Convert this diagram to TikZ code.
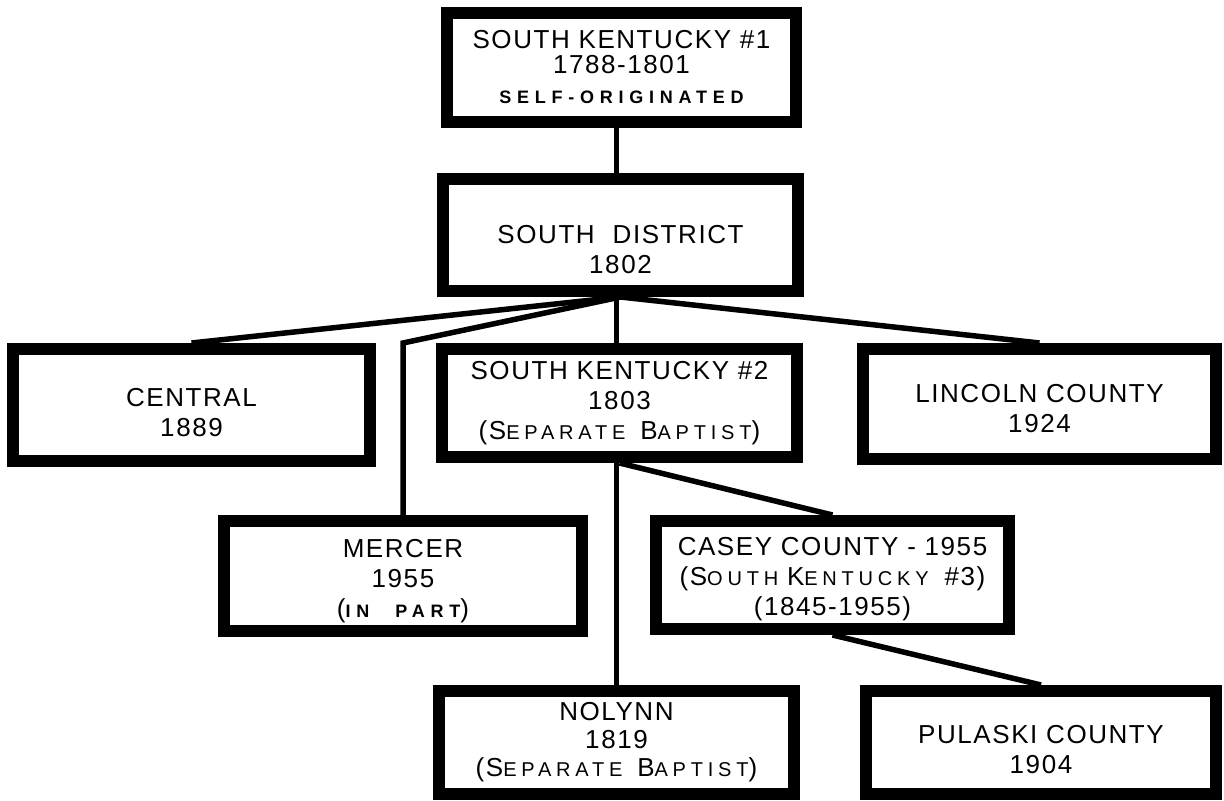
\documentclass[tikz,border=0pt]{standalone}
\usepackage{fontspec}
\setmainfont{Liberation Sans}[LetterSpace=6]
\newcommand{\smc}[1]{{\fontsize{20bp}{30bp}\selectfont\addfontfeatures{LetterSpace=24}#1}}
\newcommand{\smb}[1]{{\fontsize{18bp}{30bp}\selectfont\bfseries\addfontfeatures{LetterSpace=32}#1}}
\newcommand{\topgap}[1]{\mbox{}\\[#1]}
\begin{document}
\begin{tikzpicture}[x=1bp,y=-1bp,
  box/.style={draw, line width=12bp, rectangle, inner sep=0pt, align=center,
    font=\fontsize{26bp}{30bp}\selectfont},
  conn/.style={line width=5.5bp}]
\useasboundingbox (0,0) rectangle (1224,801);
\fill[white] (0,0) rectangle (1224,801);

\node[box, minimum width=349bp, minimum height=109bp] (sk1) at (621.5,67.5)
  {SOUTH KENTUCKY \#1\\[-5bp] 1788-1801\\[0bp] \smb{SELF-ORIGINATED}};
\node[box, minimum width=355bp, minimum height=112bp] (sd) at (620.5,235)
  {\topgap{16.6bp}SOUTH\hspace{18bp}DISTRICT\\ 1802};
\node[box, minimum width=357bp, minimum height=112bp] (central) at (191.5,405)
  {\topgap{2.6bp}CENTRAL\\ 1889};
\node[box, minimum width=355bp, minimum height=108bp] (sk2) at (619.5,403)
  {SOUTH KENTUCKY \#2\\ 1803\\ (S\smc{EPARATE}\hspace{6bp} B\smc{APTIST})};
\node[box, minimum width=353bp, minimum height=110bp] (lincoln) at (1039.5,404)
  {\topgap{-3.4bp}LINCOLN COUNTY\\ 1924};
\node[box, minimum width=358bp, minimum height=110bp] (mercer) at (403,576)
  {\topgap{-1.4bp}MERCER\\ 1955\\ (\smb{IN\hspace{26bp}PART})};
\node[box, minimum width=353bp, minimum height=108bp] (casey) at (832.5,575)
  {\topgap{-3.4bp}CASEY COUNTY - 1955\\ (S\smc{OUTH} K\smc{ENTUCKY}\hspace{16bp}\#3)\\ (1845-1955)};
\node[box, minimum width=355bp, minimum height=103bp] (nolynn) at (616.5,742.5)
  {NOLYNN\\[-2bp] 1819\\[-2bp] (S\smc{EPARATE}\hspace{6bp} B\smc{APTIST})};
\node[box, minimum width=350bp, minimum height=103bp] (pulaski) at (1041,742.5)
  {\topgap{2.6bp}PULASKI COUNTY\\ 1904};

\coordinate (hub) at (sd.south);
\coordinate (mbend) at (mercer.north |- sk2.north);
\draw[conn] (sk1.south -| nolynn.north) -- (sd.north -| nolynn.north);
\draw[conn] (hub) -- (central.north);
\draw[conn, line join=miter] (hub) -- (mbend) -- (mercer.north);
\draw[conn] (hub -| nolynn.north) -- (sk2.north -| nolynn.north);
\draw[conn] (hub) -- (lincoln.north);
\draw[conn] (nolynn.north |- sk2.south) -- (nolynn.north);
\draw[conn] (sk2.south) -- (casey.north);
\draw[conn] (casey.south) -- (pulaski.north);
\end{tikzpicture}
\end{document}
